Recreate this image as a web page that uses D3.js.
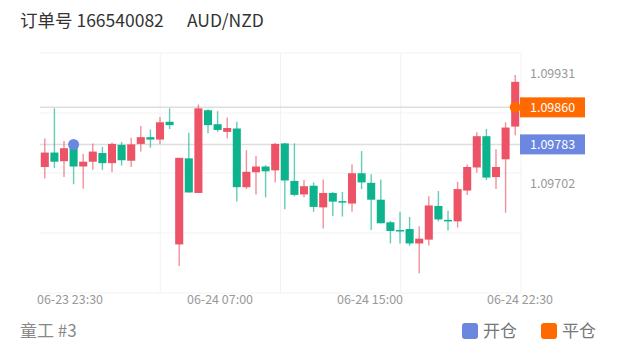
<!DOCTYPE html>
<html>
<head>
<meta charset="utf-8">
<script src="https://cdn.jsdelivr.net/npm/d3@7"></script>
<style>
  body { margin: 0; background: #fff; }
  text { font-family: "Noto Sans CJK SC", "Noto Sans", sans-serif; }
</style>
</head>
<body>
<div id="chart"></div>
<script>
// candle values (30 min bars)
const opens  = [1.09736, 1.09766, 1.09748, 1.09783, 1.09737, 1.09747, 1.09765, 1.09744, 1.09782, 1.09749,
                1.09784, 1.09798, 1.09793, 1.09830, 1.09575, 1.09754, 1.09682, 1.09854, 1.09825, 1.09809,
                1.09816, 1.09694, 1.09725, 1.09737, 1.09729, 1.09785, 1.09707, 1.09679, 1.09697, 1.09652,
                1.09682, 1.09665, 1.09660, 1.09723, 1.09703, 1.09668, 1.09621, 1.09605, 1.09607, 1.09577,
                1.09585, 1.09655, 1.09626, 1.09623, 1.09687, 1.09735, 1.09800, 1.09715, 1.09752, 1.09820];
const closes = [1.09766, 1.09747, 1.09775, 1.09737, 1.09747, 1.09768, 1.09744, 1.09784, 1.09750, 1.09783,
                1.09798, 1.09793, 1.09829, 1.09823, 1.09755, 1.09683, 1.09858, 1.09823, 1.09813, 1.09817,
                1.09694, 1.09726, 1.09737, 1.09727, 1.09784, 1.09708, 1.09678, 1.09696, 1.09653, 1.09682,
                1.09664, 1.09662, 1.09723, 1.09704, 1.09668, 1.09619, 1.09603, 1.09603, 1.09577, 1.09587,
                1.09656, 1.09627, 1.09623, 1.09690, 1.09736, 1.09800, 1.09714, 1.09736, 1.09818, 1.09913];
const highs  = [1.09795, 1.09858, 1.09790, 1.09788, 1.09763, 1.09785, 1.09778, 1.09787, 1.09788, 1.09797,
                1.09821, 1.09814, 1.09840, 1.09858, 1.09755, 1.09807, 1.09866, 1.09856, 1.09852, 1.09839,
                1.09830, 1.09771, 1.09759, 1.09740, 1.09786, 1.09786, 1.09785, 1.09709, 1.09704, 1.09710,
                1.09684, 1.09684, 1.09741, 1.09769, 1.09721, 1.09710, 1.09624, 1.09643, 1.09632, 1.09613,
                1.09675, 1.09686, 1.09645, 1.09705, 1.09741, 1.09808, 1.09815, 1.09773, 1.09829, 1.09927];
const lows   = [1.09712, 1.09734, 1.09715, 1.09700, 1.09691, 1.09730, 1.09730, 1.09725, 1.09739, 1.09736,
                1.09768, 1.09776, 1.09784, 1.09815, 1.09530, 1.09683, 1.09682, 1.09806, 1.09809, 1.09795,
                1.09664, 1.09690, 1.09679, 1.09673, 1.09704, 1.09648, 1.09675, 1.09673, 1.09643, 1.09608,
                1.09634, 1.09633, 1.09643, 1.09690, 1.09605, 1.09619, 1.09577, 1.09577, 1.09572, 1.09515,
                1.09573, 1.09623, 1.09604, 1.09610, 1.09678, 1.09724, 1.09709, 1.09690, 1.09641, 1.09802];

const timeLabels = ['06-23 23:30', '06-24 07:00', '06-24 15:00', '06-24 22:30'];
const priceTicks = [1.09931, 1.09702];

// trade markers
const openIndex = 3, openPrice = 1.09783;
const closeIndex = 49, closePrice = 1.09860;

const orderNo = '订单号 166540082';
const symbol = 'AUD/NZD';
const footer = '童工 #3';
const legendItems = ['开仓', '平仓'];

const upColor = '#ec5366';
const downColor = '#0db38c';
const openColor = '#6b87e0';
const closeColor = '#ff6a00';

const width = 620, height = 352;
const plotLeft = 40, plotRight = 520, plotTop = 53, plotBottom = 293;

const svg = d3.select('#chart')
    .append('svg')
    .attr('width', width)
    .attr('height', height);

const candles = opens.map((o, i) => ({ i, o, c: closes[i], h: highs[i], l: lows[i] }));

const xScale = d3.scalePoint()
    .domain(d3.range(candles.length))
    .range([plotLeft, plotRight])
    .padding(0.5);

const yScale = d3.scaleLinear()
    .domain([1.09474, 1.09973])
    .range([plotBottom, plotTop]);

/* grid */
const hLines = d3.range(5).map(k => plotTop + (plotBottom - plotTop) * k / 4);
svg.append('g')
    .selectAll('line')
    .data(hLines)
    .join('line')
    .attr('x1', plotLeft).attr('x2', plotRight + 1)
    .attr('y1', d => d).attr('y2', d => d)
    .attr('stroke', '#f2f2f2')
    .attr('stroke-width', 1);

const vLines = d3.range(1, 5).map(k => plotLeft + (plotRight + 1 - plotLeft) * k / 4);
svg.append('g')
    .selectAll('line')
    .data(vLines)
    .join('line')
    .attr('x1', d => d).attr('x2', d => d)
    .attr('y1', plotTop).attr('y2', plotBottom)
    .attr('stroke', '#f2f2f2')
    .attr('stroke-width', 1);

/* open / close price lines */
svg.append('g')
    .selectAll('line')
    .data([openPrice, closePrice])
    .join('line')
    .attr('x1', plotLeft).attr('x2', plotRight + 1)
    .attr('y1', d => yScale(d)).attr('y2', d => yScale(d))
    .attr('stroke', '#dedede')
    .attr('stroke-width', 1.5);

/* candles */
const bodyW = xScale.step() * 0.84;
const g = svg.append('g');

g.selectAll('line.wick')
    .data(candles)
    .join('line')
    .attr('class', 'wick')
    .attr('x1', d => xScale(d.i)).attr('x2', d => xScale(d.i))
    .attr('y1', d => yScale(d.h)).attr('y2', d => yScale(d.l))
    .attr('stroke', d => d.c >= d.o ? upColor : downColor)
    .attr('stroke-opacity', 0.65)
    .attr('stroke-width', 1.4);

g.selectAll('rect.body')
    .data(candles)
    .join('rect')
    .attr('class', 'body')
    .attr('x', d => xScale(d.i) - bodyW / 2)
    .attr('width', bodyW)
    .attr('y', d => yScale(Math.max(d.o, d.c)))
    .attr('height', d => Math.max(1.5, Math.abs(yScale(d.o) - yScale(d.c))))
    .attr('fill', d => d.c >= d.o ? upColor : downColor);

/* right price labels */
svg.append('g')
    .selectAll('text')
    .data(priceTicks)
    .join('text')
    .attr('x', 530)
    .attr('y', d => yScale(d))
    .attr('dy', '0.35em')
    .attr('font-size', 12.5)
    .attr('fill', '#999')
    .text(d => d3.format('.5f')(d));

const boxes = [
    { p: closePrice, color: closeColor },
    { p: openPrice, color: openColor }
];
const bx = svg.append('g').selectAll('g').data(boxes).join('g');
bx.append('rect')
    .attr('x', plotRight)
    .attr('y', d => yScale(d.p) - 10)
    .attr('width', 65)
    .attr('height', 20)
    .attr('fill', d => d.color);
bx.append('text')
    .attr('x', 530)
    .attr('y', d => yScale(d.p))
    .attr('dy', '0.35em')
    .attr('font-size', 12.5)
    .attr('fill', '#fff')
    .text(d => d3.format('.5f')(d.p));

/* trade dots */
svg.append('circle')
    .attr('cx', xScale(openIndex))
    .attr('cy', yScale(openPrice))
    .attr('r', 5.5)
    .attr('fill', openColor);

svg.append('circle')
    .attr('cx', xScale(closeIndex))
    .attr('cy', yScale(closePrice))
    .attr('r', 5.5)
    .attr('fill', closeColor);

/* x labels */
const xLabel = d3.scalePoint()
    .domain(timeLabels)
    .range([70, 520]);

svg.append('g')
    .selectAll('text')
    .data(timeLabels)
    .join('text')
    .attr('x', d => xLabel(d))
    .attr('y', 300)
    .attr('dy', '0.35em')
    .attr('text-anchor', 'middle')
    .attr('font-size', 12.5)
    .attr('fill', '#999')
    .text(d => d);

/* title */
svg.append('text')
    .attr('x', 20).attr('y', 27)
    .attr('font-size', 17.5)
    .attr('fill', '#333')
    .text(orderNo);

svg.append('text')
    .attr('x', 187).attr('y', 27)
    .attr('font-size', 17.5)
    .attr('fill', '#333')
    .text(symbol);

/* footer */
svg.append('text')
    .attr('x', 20).attr('y', 337)
    .attr('font-size', 17)
    .attr('fill', '#888')
    .text(footer);

const legend = svg.append('g')
    .selectAll('g')
    .data(legendItems)
    .join('g')
    .attr('transform', (d, i) => `translate(${462 + i * 79},323)`);

legend.append('rect')
    .attr('width', 16).attr('height', 16)
    .attr('rx', 3)
    .attr('fill', (d, i) => i === 0 ? openColor : closeColor);

legend.append('text')
    .attr('x', 21).attr('y', 14)
    .attr('font-size', 17)
    .attr('fill', '#777')
    .text(d => d);
</script>
</body>
</html>
